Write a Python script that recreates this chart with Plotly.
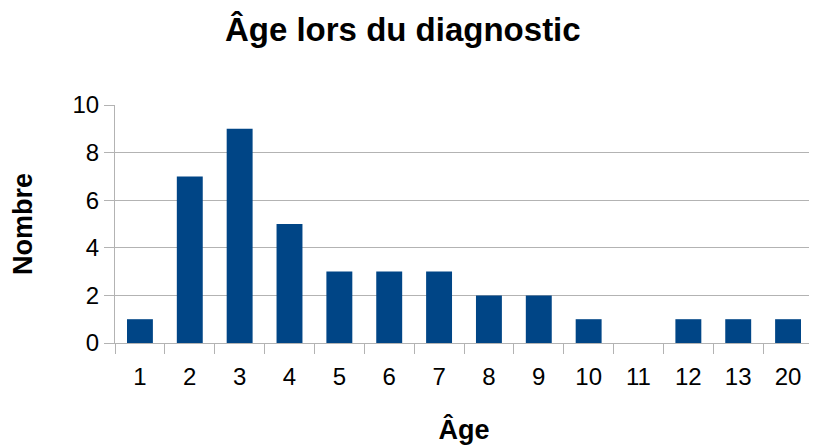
import plotly.graph_objects as go

ages = ["1", "2", "3", "4", "5", "6", "7", "8", "9", "10", "11", "12", "13", "20"]
counts = [1, 7, 9, 5, 3, 3, 3, 2, 2, 1, 0, 1, 1, 1]

grid = "#b3b3b3"
font = "Liberation Sans, Arial, sans-serif"

# page body has an 8px margin, so the figure is sized and padded for it
fig = go.Figure(go.Bar(x=ages, y=counts, marker_color="#004586",
                       marker_line_width=0, showlegend=False))

fig.update_layout(
    width=809, height=439,
    margin=dict(l=107, r=4, t=97, b=104),
    plot_bgcolor="white", paper_bgcolor="white",
    font=dict(family=font, size=24, color="black"),
    bargap=0.48,
    title=dict(text="<b>Âge lors du diagnostic</b>", x=0.488, xanchor="center",
               y=1 - 21 / 439, yanchor="middle", font=dict(size=33)),
)
fig.update_xaxes(
    type="category", showline=True, linecolor=grid, linewidth=1,
    ticks="outside", ticklen=10, tickcolor=grid, tickson="boundaries",
    showgrid=False, tickfont=dict(size=24), automargin=False,
    ticklabelstandoff=12,
    title=dict(text="<b>Âge</b>", font=dict(size=27), standoff=31),
)
fig.update_yaxes(
    range=[0, 10], dtick=2, showline=True, linecolor=grid, mirror=True,
    gridcolor=grid, ticks="outside", ticklen=10, tickcolor=grid,
    zeroline=False, tickfont=dict(size=24), automargin=False,
    title=dict(text="<b>Nombre</b>", font=dict(size=27), standoff=32),
)

fig.write_html("out.html")
